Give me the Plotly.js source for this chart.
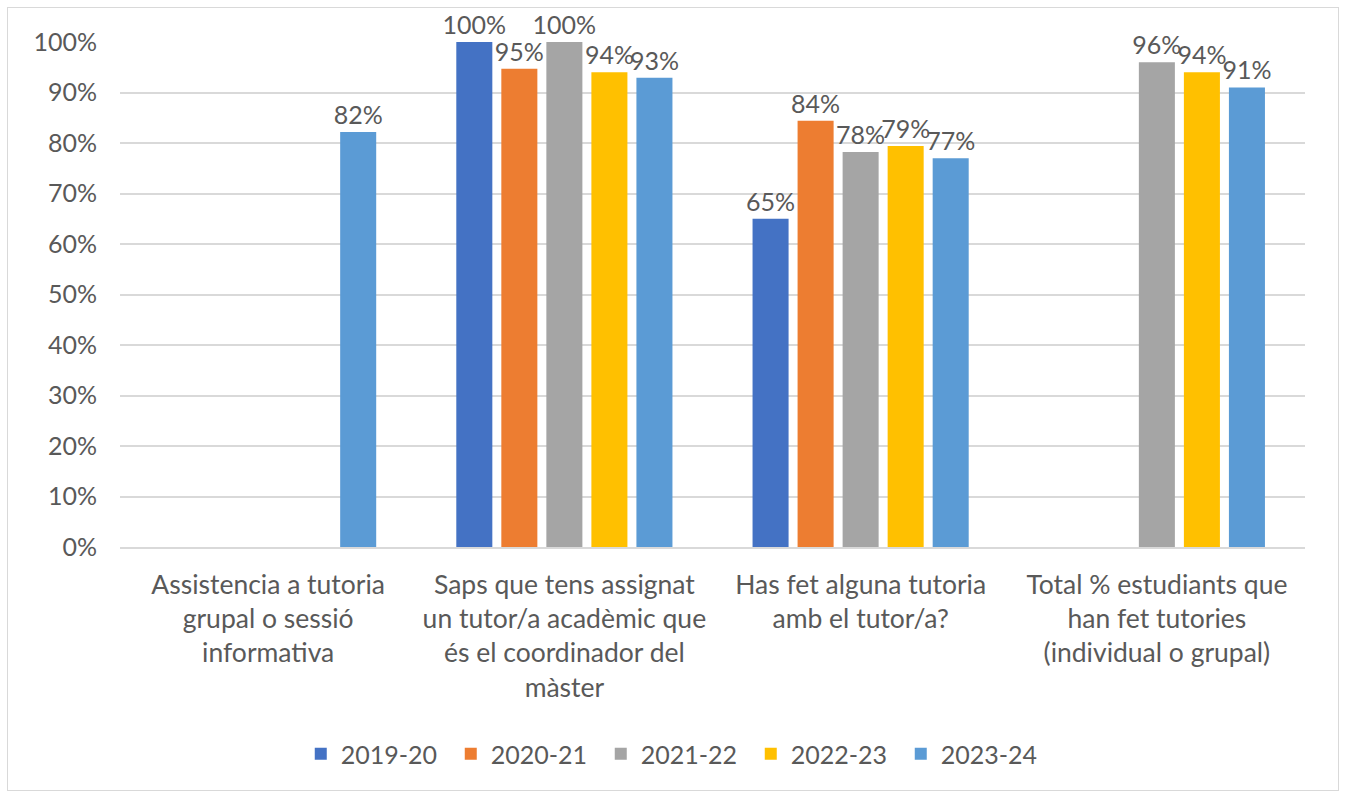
<!DOCTYPE html>
<html>
<head>
<meta charset="utf-8">
<script src="https://cdn.plot.ly/plotly-3.0.1.min.js"></script>
<style>
  html, body { margin: 0; padding: 0; background: #fff; }
  #chart {
    position: absolute; left: 7px; top: 7px;
    width: 1330px; height: 782px;
    border: 1px solid #d9d9d9;
  }
</style>
</head>
<body>
<div id="chart"></div>
<script>
const categories = [
    'Assistencia a tutoria<br>grupal o sessió<br>informativa',
    'Saps que tens assignat<br>un tutor/a acadèmic que<br>és el coordinador del<br>màster',
    'Has fet alguna tutoria<br>amb el tutor/a?',
    'Total % estudiants que<br>han fet tutories<br>(individual o grupal)'
];
const seriesNames = ['2019-20', '2020-21', '2021-22', '2022-23', '2023-24'];
const colors = ['#4472C4', '#ED7D31', '#A5A5A5', '#FFC000', '#5B9BD5'];

// percentages per course year, null where there is no bar
const v2019 = [null, 100, 65, null];
const v2020 = [null, 94.7, 84.4, null];
const v2021 = [null, 100, 78.2, 96];
const v2022 = [null, 94, 79.4, 94];
const v2023 = [82.2, 92.9, 77, 91];

const values = [v2019, v2020, v2021, v2022, v2023];
const font = 'Lato, "Open Sans", sans-serif';
const grey = '#595959';

const traces = seriesNames.map((name, i) => ({
    type: 'bar',
    name: name,
    x: categories,
    y: values[i],
    marker: { color: colors[i] },
    text: values[i].map(v => v == null ? '' : Math.round(v) + '%'),
    textposition: 'outside',
    constraintext: 'none',
    cliponaxis: false,
    textfont: { family: font, size: 25, color: grey },
    hoverinfo: 'x+y+name'
}));

const layout = {
    width: 1330,
    height: 782,
    margin: { l: 112, r: 33, t: 34, b: 243 },
    paper_bgcolor: '#fff',
    plot_bgcolor: '#fff',
    font: { family: font, color: grey },
    barmode: 'group',
    bargap: 0.24,
    bargroupgap: 0.2,
    showlegend: true,
    legend: {
        orientation: 'h',
        x: 0.469, xanchor: 'center',
        y: -0.41, yanchor: 'middle',
        font: { family: font, size: 25, color: grey },
        entrywidth: 105,
        traceorder: 'normal'
    },
    xaxis: {
        showgrid: false,
        showline: true,
        linecolor: '#d9d9d9',
        linewidth: 1.5,
        tickfont: { family: font, size: 26.5, color: grey },
        ticks: '',
        ticklabelstandoff: 13
    },
    yaxis: {
        range: [0, 100],
        dtick: 10,
        ticksuffix: '%',
        showgrid: true,
        gridcolor: '#d9d9d9',
        gridwidth: 1.5,
        zeroline: false,
        tickfont: { family: font, size: 25, color: grey },
        ticklabelstandoff: 22
    }
};

Plotly.newPlot('chart', traces, layout, { displayModeBar: false });
</script>
</body>
</html>
